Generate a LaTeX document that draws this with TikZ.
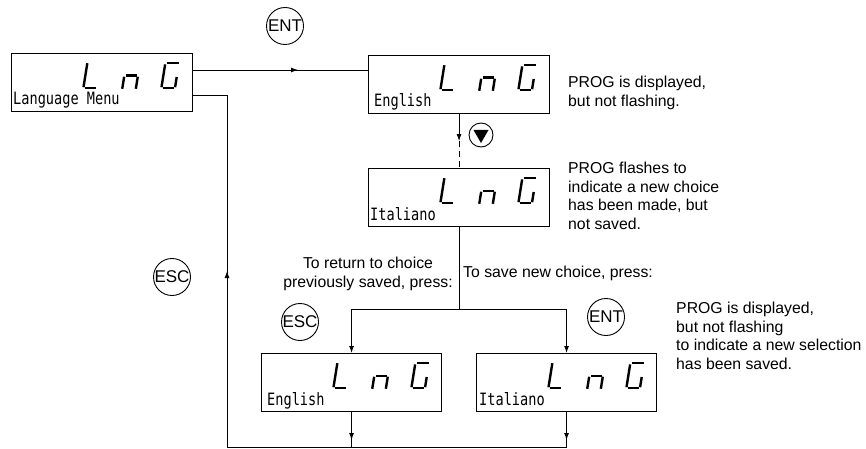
\documentclass[tikz,border=0pt]{standalone}
\usepackage{fontspec}
\setmainfont{Liberation Sans}
\newfontfamily\lcdfont[FakeStretch=0.8]{DejaVu Sans Mono}
\usetikzlibrary{arrows.meta,decorations.markings,calc}
\tikzset{
  lcdbox/.style={draw, line width=1.1pt, minimum width=181pt, minimum height=58pt, inner sep=0pt, anchor=north west},
  conn/.style={line width=0.9pt},
  tipend/.style={-{Latex[length=7pt,width=5pt]}},
  midarrow/.style={postaction={decorate,decoration={markings,mark=at position #1 with {\arrow{Latex[length=7pt,width=5pt]}}}}},
  keyc/.style={draw, circle, line width=0.9pt, minimum size=37pt, inner sep=0pt, font=\fontsize{17}{18}\selectfont},
  note/.style={inner sep=0pt, anchor=north west, align=left, font=\fontsize{15.8}{18.5}\selectfont},
  lcdtext/.style={inner sep=0pt, anchor=base west, font=\lcdfont\fontsize{17}{17}\selectfont},
  seg/.style={line width=2.4pt, line cap=butt},
}
\newcommand\segL{\draw[seg] (1.2,-1.8) -- (1.2,-25.8); \draw[seg] (2.7,-1.2) -- (14.2,-1.2);}
\newcommand\segN{\draw[seg] (2.7,-13.3) -- (13.5,-13.3); \draw[seg] (1.2,-0.2) -- (1.2,-12.3); \draw[seg] (14.8,-0.2) -- (14.8,-12.3);}
\newcommand\segG{\draw[seg] (2.7,-25.8) -- (15.3,-25.8); \draw[seg] (1.2,-1.8) -- (1.2,-24.6); \draw[seg] (2.7,-1.2) -- (13.5,-1.2); \draw[seg] (14.8,-1.8) -- (14.8,-12);}
\newcommand\lcdLnG[2]{%
  \begin{scope}[shift={(#1+71,#2+36)}, xslant=0.16] \segL \end{scope}
  \begin{scope}[shift={(#1+110,#2+36)}, xslant=0.16] \segN \end{scope}
  \begin{scope}[shift={(#1+149,#2+36)}, xslant=0.16] \segG \end{scope}}
\begin{document}
\begin{tikzpicture}[x=1pt,y=-1pt]
\useasboundingbox (0,0) rectangle (866,449);
% display boxes
\node[lcdbox] (b1) at (11,53) {};
\node[lcdbox] (b2) at (368,55) {};
\node[lcdbox] (b3) at (368,168) {};
\node[lcdbox, minimum width=180pt] (b4) at (261,353) {};
\node[lcdbox, minimum width=180pt] (b5) at (476,353) {};
\lcdLnG{11}{53}
\lcdLnG{368}{55}
\lcdLnG{368}{168}
\lcdLnG{261}{353}
\lcdLnG{476}{353}
\node[lcdtext] (t1) at (13,105) {Language Menu};
\node[lcdtext] (t2) at (374,107) {English};
\node[lcdtext] (t3) at (370,220) {Italiano};
\node[lcdtext] (t4) at (267,405) {English};
\node[lcdtext] (t5) at (479,405) {Italiano};
% keys
\node[keyc] (ent1) at (285,26) {ENT};
\node[keyc] (esc1) at (172,277) {ESC};
\node[keyc] (esc2) at (300,322) {ESC};
\node[keyc] (ent2) at (606,317) {ENT};
\node[draw, circle, minimum size=24pt, inner sep=0pt, line width=0.9pt] (dn) at (481,135) {};
\fill ($(dn.center)+(-7.5,-5)$) -- ($(dn.center)+(7.5,-5)$) -- ($(dn.center)+(0,8)$) -- cycle;
% connectors
\coordinate (p1) at ($(b1.north east)+(0,17)$);
\coordinate (p2) at ($(b1.north east)+(0,42)$);
\coordinate (lt) at (227,95);
\coordinate (lb) at (227,447);
\coordinate (rb) at (b5.south |- lb);
\draw[conn, midarrow=0.6] (p1) -- (p1 -| b2.west);
\draw[conn] (lt) -- (p2);
\draw[conn, midarrow=0.5] (lb) -- (lt);
\draw[conn] (rb) -- (lb);
\draw[conn, midarrow=0.8] (b4.south) -- (b4.south |- lb);
\draw[conn, midarrow=0.8] (b5.south) -- (rb);
\coordinate (da) at ($(b2.south)+(0,27)$);
\draw[conn, tipend] (b2.south) -- (da);
\draw[conn, dash pattern=on 6pt off 4pt] (da) -- (b3.north);
\coordinate (br) at ($(b3.south)+(0,82)$);
\draw[conn] (b3.south) -- (br);
\draw[conn, tipend] (br) -| (b4.north);
\draw[conn, tipend] (br) -| (b5.north);
% notes
\node[note] (n1) at (568,76) {PROG is displayed,\\but not flashing.};
\node[note] (n2) at (568,162) {PROG flashes to\\indicate a new choice\\has been made, but\\not saved.};
\node[note] (n3) at (676,302) {PROG is displayed,\\but not flashing\\to indicate a new selection\\has been saved.};
\node[note, anchor=north, align=center] (n4) at (368,257) {To return to choice\\previously saved, press:};
\node[note] (n5) at (463,266) {To save new choice, press:};
\end{tikzpicture}
\end{document}
